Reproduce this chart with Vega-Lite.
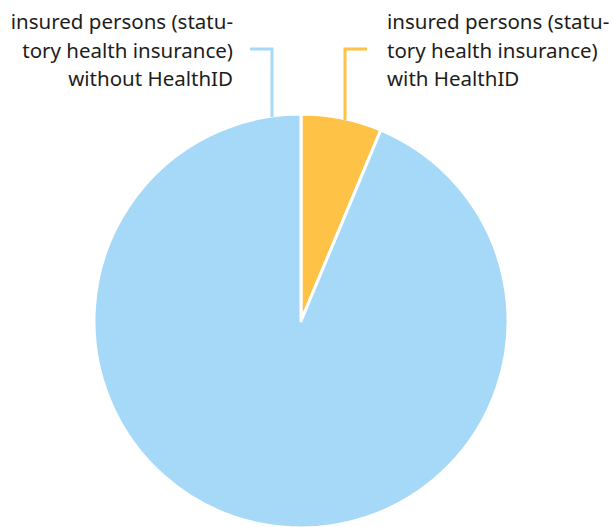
{
  "$schema": "https://vega.github.io/schema/vega-lite/v6.json",
  "width": 414,
  "height": 414,
  "padding": {"left": 94, "top": 114, "right": 105, "bottom": 0},
  "autosize": {"type": "none"},
  "background": "white",
  "config": {"view": {"stroke": null}},
  "datasets": {
    "slices": [
      {"group": "with HealthID", "share": 6.3, "rank": 1},
      {"group": "without HealthID", "share": 93.7, "rank": 2}
    ],
    "connectors": [
      {"group": "without HealthID", "pt": 1, "px": -0.246, "py": 1.314},
      {"group": "without HealthID", "pt": 2, "px": -0.140, "py": 1.314},
      {"group": "without HealthID", "pt": 3, "px": -0.140, "py": 0.986},
      {"group": "with HealthID", "pt": 1, "px": 0.319, "py": 1.314},
      {"group": "with HealthID", "pt": 2, "px": 0.2126, "py": 1.314},
      {"group": "with HealthID", "pt": 3, "px": 0.2126, "py": 0.971}
    ],
    "labels": [
      {"group": "without HealthID", "label": "insured persons (statu-\ntory health insurance)\nwithout HealthID", "px": -0.3285, "py": 1.4106, "side": "right"},
      {"group": "with HealthID", "label": "insured persons (statu-\ntory health insurance)\nwith HealthID", "px": 0.4155, "py": 1.4106, "side": "left"}
    ]
  },
  "layer": [
    {
      "data": {"name": "slices"},
      "mark": {"type": "arc", "outerRadius": 207, "stroke": "white", "strokeWidth": 3, "strokeJoin": "round"},
      "encoding": {
        "theta": {"field": "share", "type": "quantitative", "stack": true},
        "order": {"field": "rank", "type": "quantitative"},
        "color": {
          "field": "group", "type": "nominal",
          "scale": {"domain": ["with HealthID", "without HealthID"], "range": ["#fec247", "#a5d9f7"]},
          "legend": null
        }
      }
    },
    {
      "data": {"name": "connectors"},
      "mark": {"type": "line", "strokeWidth": 3, "strokeCap": "butt", "strokeJoin": "miter", "clip": false},
      "encoding": {
        "x": {"field": "px", "type": "quantitative", "scale": {"domain": [-1, 1]}, "axis": null},
        "y": {"field": "py", "type": "quantitative", "scale": {"domain": [-1, 1]}, "axis": null},
        "detail": {"field": "group"},
        "order": {"field": "pt", "type": "quantitative"},
        "color": {"field": "group", "type": "nominal", "legend": null}
      }
    },
    {
      "data": {"name": "labels"},
      "transform": [{"filter": "datum.side == 'right'"}],
      "mark": {"type": "text", "align": "right", "baseline": "alphabetic", "lineBreak": "\n", "lineHeight": 28.5, "font": "Noto Sans", "fontSize": 20.5, "color": "#1d1d1b", "clip": false},
      "encoding": {
        "x": {"field": "px", "type": "quantitative", "scale": {"domain": [-1, 1]}, "axis": null},
        "y": {"field": "py", "type": "quantitative", "scale": {"domain": [-1, 1]}, "axis": null},
        "text": {"field": "label"}
      }
    },
    {
      "data": {"name": "labels"},
      "transform": [{"filter": "datum.side == 'left'"}],
      "mark": {"type": "text", "align": "left", "baseline": "alphabetic", "lineBreak": "\n", "lineHeight": 28.5, "font": "Noto Sans", "fontSize": 20.5, "color": "#1d1d1b", "clip": false},
      "encoding": {
        "x": {"field": "px", "type": "quantitative", "scale": {"domain": [-1, 1]}, "axis": null},
        "y": {"field": "py", "type": "quantitative", "scale": {"domain": [-1, 1]}, "axis": null},
        "text": {"field": "label"}
      }
    }
  ]
}
